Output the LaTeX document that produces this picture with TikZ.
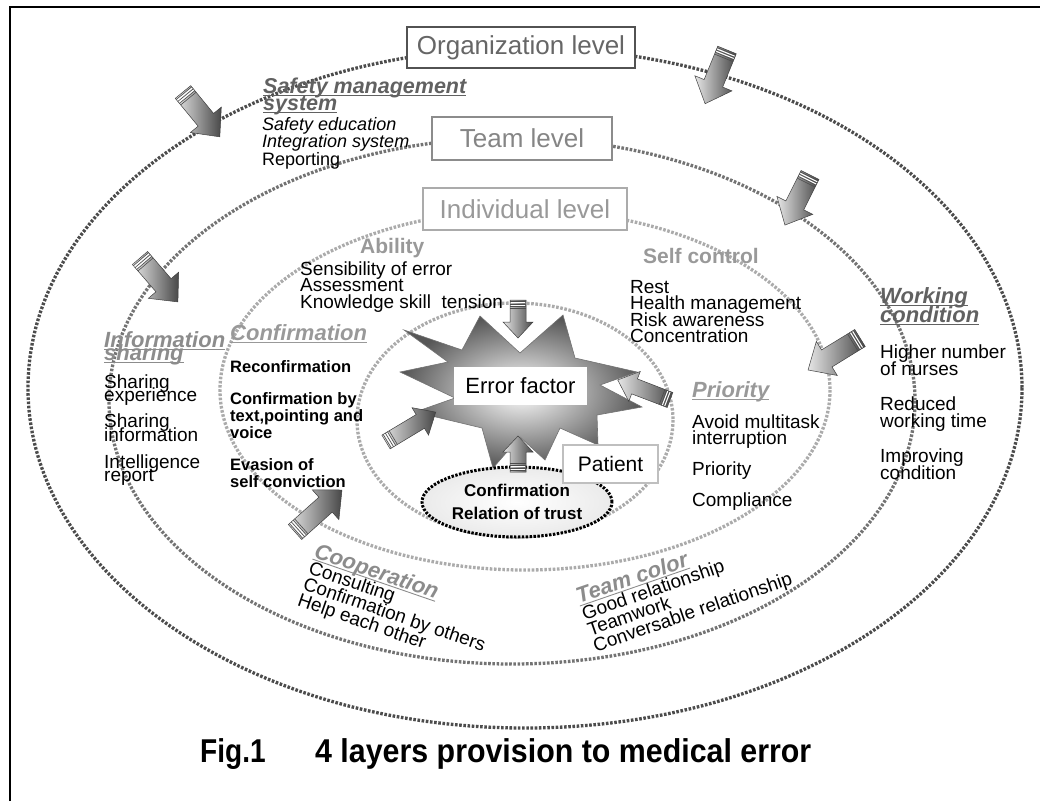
\documentclass[tikz,border=0pt]{standalone}
\usepackage{fontspec}
\setmainfont{Liberation Sans}
\usepackage{graphicx}
\usetikzlibrary{shapes.geometric}
\lineskiplimit=-200pt
\newcommand{\fsz}[2]{\fontsize{#1}{#2}\selectfont\lineskiplimit=-200pt\relax}
\newcommand{\ulin}[1]{\setbox0\hbox{#1}\rlap{\rule[-2.6pt]{\wd0}{0.9pt}}\box0}
\newcommand{\li}[1]{\hbox{#1}}
% block arrow: x, y (tail), angle, length, body half width, head half width, head length
\newcommand{\blockarr}[7]{%
\begin{scope}[shift={(#1,#2)},rotate=#3]
 \shade[left color=black!10, right color=black!72, draw=black!75, line width=0.5pt]
  (0,-#5) -- ({#4-#7},-#5) -- ({#4-#7},-#6) -- (#4,0) -- ({#4-#7},#6) -- ({#4-#7},#5) -- (0,#5) -- cycle;
 \foreach \s in {1.5,4,6.5,8.5} \draw[black!70, line width=0.6pt] (\s,-#5) -- (\s,#5);
 \foreach \s in {2.8,5.3} \draw[white, line width=1pt] (\s,{-#5+0.6}) -- (\s,{#5-0.6});
\end{scope}}
\begin{document}
\begin{tikzpicture}[x=1pt,y=-1pt,
  ring/.style={line width=3.3pt, dash pattern=on 2.6pt off 1.6pt},
  levelbox/.style={draw, fill=white, line width=2pt, inner sep=0pt, font=\fsz{26}{30}},
  txt/.style={anchor=base west, inner sep=0pt},
  item/.style={txt, font=\fsz{19}{16.5}},
  head/.style={txt, font=\fsz{22}{19}\bfseries\itshape},
]
\useasboundingbox (0,0) rectangle (1040,801);
% frame
\draw[line width=1.8pt] (10,801) -- (10,7) -- (1040,7);

% rings
\draw[ring, draw=black!70] (525,388) ellipse [x radius=497, y radius=340];
\draw[ring, draw=black!55] (512,401) ellipse [x radius=403, y radius=263];
\draw[ring, draw=black!33] (525,390) ellipse [x radius=305, y radius=180];
\draw[ring, draw=black!33] (515,420) ellipse [x radius=158, y radius=117];

% starburst
\shade[inner color=white, outer color=black!66, draw=black!55, line width=0.6pt]
  (400,372) -- (448,362) -- (404,330) -- (462,350) -- (480,316) -- (520,353) -- (563,315)
  -- (575,358) -- (637,372) -- (600,385) -- (642,407) -- (597,415) -- (598,445) -- (560,428)
  -- (545,460) -- (520,437) -- (493,468) -- (482,428) -- (415,412) -- (455,398) -- cycle;

% confirmation ellipse
\node[ellipse, draw=black, line width=3pt, dash pattern=on 2.4pt off 1.5pt, shade,
  inner color=white, outer color=black!8, minimum width=190, minimum height=70, inner sep=0pt,
  align=center, font=\fsz{17}{23}\bfseries] (conf) at (517,502) {Confirmation\\Relation of trust};

% inner arrows
\blockarr{518}{300}{-90}{38}{8}{15}{16}
\blockarr{670}{400}{159}{56}{8}{16}{18}
\blockarr{386}{442}{31}{58}{8}{16}{18}
\blockarr{518}{472}{90}{36}{8}{15}{16}

\node[fill=white, minimum width=133, minimum height=38, inner sep=0pt, font=\fsz{22}{26}] (err) at (520.5,386) {Error factor};
\node[draw=black!25, fill=white, line width=2pt, minimum width=95, minimum height=38, inner sep=0pt, font=\fsz{21}{25}] (patient) at (610.5,464) {Patient};

% level boxes
\node[levelbox, draw=black!68, text=black!60, minimum width=228, minimum height=41] (org) at (521,47.5) {Organization level};
\node[levelbox, draw=black!45, text=black!48, minimum width=180, minimum height=43] (team) at (522,138.5) {Team level};
\node[levelbox, draw=black!33, text=black!40, minimum width=204, minimum height=42] (ind) at (525,209) {Individual level};

% outer arrows
\blockarr{183}{92}{-50.6}{58}{10}{20}{22}
\blockarr{727}{50}{-112.2}{58}{10}{20}{22}
\blockarr{810}{175}{-116.6}{56}{10}{20}{22}
\blockarr{140}{258}{-49.2}{58}{10}{20}{22}
\blockarr{860}{338}{-148.4}{61}{10}{20}{22}
\blockarr{295}{532}{41.8}{63}{10}{20}{22}

% texts
\node[head, text=black!62, font=\fsz{21.5}{17.5}\bfseries\itshape] (smsh) at (263,93) {\vtop{\li{\ulin{Safety management}}\li{\ulin{system}}}};
\node[txt, font=\fsz{18}{17.5}] (smsi) at (262,130) {\vtop{\li{\itshape Safety education}\li{\itshape Integration system}\li{Reporting}}};

\node[txt, font=\fsz{21}{25}\bfseries, text=black!40] (abil) at (360,253) {Ability};
\node[item] (abili) at (300,275) {\vtop{\li{Sensibility of error}\li{Assessment}\li{Knowledge skill\ \ tension}}};
\node[txt, font=\fsz{21}{25}\bfseries, text=black!40] (selfc) at (643,263) {Self control};
\node[item] (selfci) at (630,293) {\vtop{\li{Rest}\li{Health management}\li{Risk awareness}\li{Concentration}}};

\node[head, text=black!62] (workh) at (880,303) {\vtop{\li{\ulin{Working}}\li{\ulin{condition}}}};
\node[item, font=\fsz{19}{17}] (worki) at (880,358) {\vtop{\li{Higher number}\li{of nurses}\vskip18pt\li{Reduced}\li{working time}\vskip18pt\li{Improving}\li{condition}}};

\node[head, text=black!40] (prih) at (692,397) {\ulin{Priority}};
\node[item, font=\fsz{19}{16}] (prii) at (692,428) {\vtop{\li{Avoid multitask}\li{interruption}\vskip15pt\li{Priority}\vskip15pt\li{Compliance}}};

\node[head, font=\fsz{22}{13}\bfseries\itshape, text=black!45] (infoh) at (104,347) {\vtop{\li{\ulin{Information}}\li{\ulin{sharing}}}};
\node[item, font=\fsz{19}{13.5}] (infoi) at (104,388) {\vtop{\li{Sharing}\li{experience}\vskip12.5pt\li{Sharing}\li{information}\vskip13.5pt\li{Intelligence}\li{report}}};

\node[head, text=black!40] (confh) at (230,340) {\ulin{Confirmation}};
\node[txt, font=\fsz{16.5}{16.8}\bfseries] (confi) at (230,372) {\vtop{\li{Reconfirmation}\vskip16pt\li{Confirmation by}\li{text,pointing and}\li{voice}\vskip15pt\li{Evasion of}\li{self conviction}}};

\node[txt, rotate=-19, font=\fsz{19}{17}] (coop) at (313,557) {\vtop{\li{\fsz{22}{17}\bfseries\itshape\color{black!45}\ulin{Cooperation}}\li{Consulting}\li{Confirmation by others}\li{Help each other}}};
\node[txt, rotate=19, font=\fsz{19}{17}] (tcol) at (579,604) {\vtop{\li{\fsz{22}{17}\bfseries\itshape\color{black!45}\ulin{Team color}}\li{Good relationship}\li{Teamwork}\li{Conversable relationship}}};

% title
\node[txt, font=\fsz{33}{38}\bfseries] (fig) at (200,762) {\scalebox{0.85}[1]{Fig.1}};
\node[txt, font=\fsz{33}{38}\bfseries] (title) at (315,762) {\scalebox{0.92}[1]{4 layers provision to medical error}};
\end{tikzpicture}
\end{document}
